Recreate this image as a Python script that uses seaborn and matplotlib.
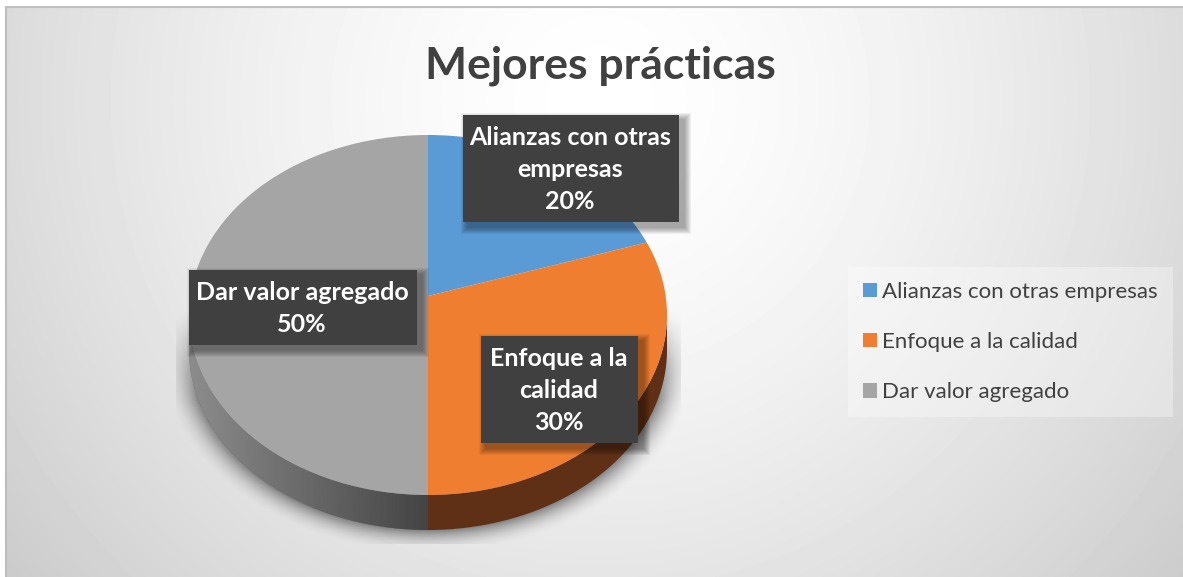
import numpy as np
import matplotlib
matplotlib.use("Agg")
import matplotlib.pyplot as plt
import seaborn as sns
from matplotlib.patches import Ellipse, Polygon, Rectangle

categories = ["Alianzas con otras empresas", "Enfoque a la calidad", "Dar valor agregado"]
values = [20, 30, 50]
wrapped_labels = ["Alianzas con otras\nempresas", "Enfoque a la\ncalidad", "Dar valor agregado"]
title = "Mejores prácticas"
top_colors = sns.color_palette(["#5B9BD5", "#F07E30", "#A5A5A5"])
wall_colors = sns.color_palette(["#2F5F8C", "#5F3015", "#6A6A6A"])

sns.set_theme(style="white")
plt.rcParams["font.family"] = ["Lato", "DejaVu Sans"]

W, H = 1183, 577
fig = plt.figure(figsize=(W / 100, H / 100), dpi=100, facecolor="white")

# --- background axes in pixel coordinates
bg = fig.add_axes([0, 0, 1, 1], zorder=0)
bg.set_axis_off()
yy, xx = np.mgrid[7:577, 6:1183]
d = np.hypot(xx - 600, yy - 100)
shade = 255 - 51 * np.clip(d / 750, 0, 1.1) ** 1.5
bg.imshow(shade, cmap="gray", vmin=0, vmax=255, extent=(6, 1183, 577, 7), aspect="auto", zorder=0)
# soft shadow below the pie
cx, cy, rx, ry, depth = 428, 315, 239, 180, 35
yy2, xx2 = np.mgrid[300:544, 176:681]
e = np.hypot((xx2 - cx) / rx, (yy2 - (cy + depth)) / ry)
alpha = np.clip((1.13 - e) / 0.13, 0, 1) ** 2 * 0.42
alpha = alpha * np.clip((yy2 - 310) / 90, 0, 1)
rgba = np.zeros(alpha.shape + (4,))
rgba[..., 3] = alpha
bg.imshow(rgba, extent=(176, 681, 544, 300), aspect="auto", zorder=1)
bg.plot([6, 1183], [7, 7], color="#C0C0C0", lw=1.5, zorder=2)
bg.plot([6.5, 6.5], [7, 577], color="#BDBDBD", lw=1.5, zorder=2)
bg.set_xlim(0, W)
bg.set_ylim(H, 0)

# --- pie axes: one data unit is one radius
ax = fig.add_axes([0, 0, 1, 1], zorder=1)
ax.patch.set_alpha(0)
apex = 19 / ry
dep = depth / ry
t = np.linspace(np.pi, 2 * np.pi, 200)
wall_xy = np.r_[np.c_[np.cos(t), np.sin(t) - dep], np.c_[np.cos(t), np.sin(t)][::-1]]

wall_w, _ = ax.pie(values, colors=wall_colors, startangle=90, counterclock=False,
                   radius=3, center=(0, 0), wedgeprops={"linewidth": 0})
for w in wall_w:
    w.set_clip_on(True)
    w.set_clip_path(Polygon(wall_xy, closed=True, transform=ax.transData))
top_w, _ = ax.pie(values, colors=top_colors, startangle=90, counterclock=False,
                  radius=3, center=(0, apex), wedgeprops={"linewidth": 0})
for w in top_w:
    w.set_clip_on(True)
    w.set_clip_path(Ellipse((0, 0), 2, 2, transform=ax.transData))
    w.set_zorder(5)

grad = np.linspace(0x8C, 0x44, 256)[None, :]
im = ax.imshow(grad, cmap="gray", vmin=0, vmax=255, extent=(-1, 0, -1.3, 0.1),
               aspect="auto", zorder=3)
left_t = np.linspace(np.pi, 1.5 * np.pi, 120)
left_xy = np.r_[np.c_[np.cos(left_t), np.sin(left_t) - dep], np.c_[np.cos(left_t), np.sin(left_t)][::-1]]
im.set_clip_path(Polygon(left_xy, closed=True, transform=ax.transData))

ax.set_aspect("auto")
ax.set_xlim(-cx / rx, (W - cx) / rx)
ax.set_ylim((cy - H) / ry, cy / ry)
ax.set_axis_off()

# --- overlay axes in pixel coordinates
top = fig.add_axes([0, 0, 1, 1], zorder=2)
top.patch.set_alpha(0)
top.set_axis_off()
top.set_xlim(0, W)
top.set_ylim(H, 0)

top.text(600.5, 66, title, ha="center", va="center", fontsize=32, fontweight="bold", color="#404040")

boxes = [(463, 115, 216, 107), (481, 336, 157, 107), (189, 270, 228, 75)]
for (x, y, w_, h_), lab, v in zip(boxes, wrapped_labels, values):
    for k in range(7, 0, -1):
        top.add_patch(Rectangle((x + 5 - k, y + 5 - k), w_ + 2 * k, h_ + 2 * k, fc="black",
                                ec="none", alpha=0.055, zorder=3))
    top.add_patch(Rectangle((x, y), w_, h_, fc="#404040", ec="none", zorder=4))
    top.text(x + w_ / 2 - 1, y + h_ / 2 + 1, f"{lab}\n{v}%", ha="center", va="center", color="white",
             fontsize=18, fontweight="bold", linespacing=1.47, zorder=5)

leg = top.legend(top_w, categories, loc="upper left", bbox_to_anchor=(848 / W, 1 - 266.5 / H),
                 bbox_transform=fig.transFigure, borderaxespad=0, frameon=True, fancybox=False,
                 facecolor="white", edgecolor="none", framealpha=0.33, prop={"size": 16},
                 labelcolor="#404040", handlelength=0.63, handleheight=0.63, handletextpad=0.22,
                 labelspacing=1.36, borderpad=0.68)
for h in leg.legend_handles:
    h.set_clip_on(False)
    h.set_clip_path(None)

fig.savefig("out.png", dpi=100)
